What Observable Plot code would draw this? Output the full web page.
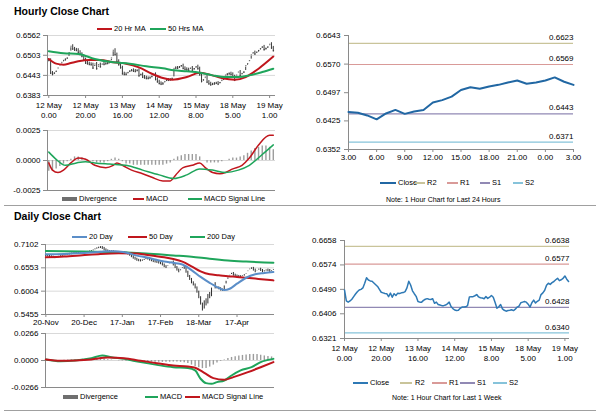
<!DOCTYPE html>
<html><head><meta charset="utf-8">
<script src="https://cdn.jsdelivr.net/npm/d3@7"></script>
<script src="https://cdn.jsdelivr.net/npm/@observablehq/plot@0.6"></script>
<style>
body{margin:0;background:#fff;}
#root{position:relative;width:600px;height:413px;overflow:hidden;font-family:"Liberation Sans",Arial,sans-serif;color:#000;background:#fff;}
.abs{position:absolute;}
.title{position:absolute;font-weight:bold;font-size:10.5px;line-height:12px;white-space:nowrap;}
.lt{position:absolute;font-size:7.5px;line-height:8px;white-space:nowrap;}
.sw{position:absolute;}
.note{position:absolute;font-size:7px;line-height:8px;white-space:nowrap;}
.sep{position:absolute;height:1px;background:#a0a0a0;}
</style></head><body><div id="root"></div>
<script>
// ---------------- DATA ----------------
// Hourly closes, 12 May 0:00 .. 19 May 3:00 (trading hours, index based)
const hourClose = [
0.6488,0.6450,0.6446,0.6450,0.6456,0.6465,0.6474,0.6482,0.6488,0.6490,
0.6495,0.6511,0.6530,0.6522,0.6519,0.6518,0.6512,0.6506,0.6500,0.6490,
0.6480,0.6478,0.6476,0.6475,0.6465,0.6477,0.6463,0.6475,0.6469,0.6477,
0.6476,0.6478,0.6479,0.6482,0.6495,0.6518,0.6505,0.6485,0.6475,0.6466,
0.6448,0.6446,0.6446,0.6452,0.6456,0.6458,0.6456,0.6455,0.6458,0.6442,
0.6446,0.6438,0.6436,0.6434,0.6434,0.6436,0.6440,0.6446,0.6431,0.6424,
0.6419,0.6417,0.6418,0.6425,0.6429,0.6429,0.6430,0.6434,0.6464,0.6465,
0.6465,0.6468,0.6472,0.6464,0.6461,0.6460,0.6458,0.6465,0.6459,0.6463,
0.6469,0.6463,0.6445,0.6425,0.6430,0.6438,0.6423,0.6418,0.6415,0.6417,
0.6418,0.6420,0.6417,0.6422,0.6429,0.6432,0.6444,0.6446,
0.6448,0.6446,0.6439,0.6429,0.6444,0.6453,0.6443,0.6449,0.6453,0.6472,
0.6478,0.6487,0.6504,0.6511,0.6507,0.6513,0.6517,0.6523,0.6528,0.6520,
0.6523,0.6528,0.6536,0.6525,0.6517];
const hourTickIdx = [0,20,40,60,80,100,120];
const hourTickLabels = ["12 May\n0.00","12 May\n20.00","13 May\n16.00","14 May\n12.00","15 May\n8.00","18 May\n5.00","19 May\n1.00"];
const hourPriceTicks = [0.6383,0.6443,0.6503,0.6562];

const hourMA20Idx = [0,4,8,12,16,22,28,35,42,49,56,62,67,75,82,87,94,101,107,114,122];
const hourMA20 = [0.6492,0.6478,0.6475,0.6480,0.6485,0.6489,0.6489,0.6482,0.6478,0.6467,0.6448,0.6435,0.6430,0.6438,0.6451,0.6446,0.6435,0.6430,0.6438,0.6463,0.6499];
const hourMA50Idx = [0,8,16,25,35,44,53,62,68,75,82,89,96,103,109,116,122];
const hourMA50 = [0.6515,0.6509,0.6507,0.6492,0.6482,0.6478,0.6470,0.6464,0.6458,0.6455,0.6451,0.6443,0.6438,0.6438,0.6443,0.6453,0.6463];

const hourMacdIdx = [0,2,5,8,12,16,20,25,31,35,37,40,45,51,56,62,66,69,73,78,82,85,89,93,96,100,105,109,114,120,122];
const hourMacd = [-0.0002,-0.0008,-0.0010,-0.0008,-0.0002,0.0002,0.0001,-0.0004,-0.0006,-0.0004,-0.0002,-0.0004,-0.0008,-0.0011,-0.0014,-0.0017,-0.0017,-0.0012,-0.0006,-0.0004,-0.0002,-0.0006,-0.0010,-0.0011,-0.0010,-0.0007,-0.0004,0.0002,0.0013,0.0021,0.0021];
const hourSignalIdx = [0,4,9,15,20,25,33,42,51,60,68,75,82,89,96,103,109,116,122];
const hourSignal = [0.0007,0.0001,-0.0004,-0.0002,-0.0001,-0.0002,-0.0003,-0.0004,-0.0008,-0.0012,-0.0015,-0.0012,-0.0007,-0.0008,-0.0010,-0.0008,-0.0004,0.0005,0.0013];
// divergence, every 2nd hour
const hourDivergence = [
-0.0009,-0.0009,-0.0007,-0.0005,-0.0003,-0.0001,0.0001,0.0003,0.0003,0.0002,
0.0001,0.0000,-0.0001,-0.0002,-0.0002,-0.0002,-0.0001,0.0001,0.0002,0.0001,
-0.0001,-0.0003,-0.0003,-0.0004,-0.0004,-0.0004,-0.0004,-0.0004,-0.0004,-0.0004,
-0.0004,-0.0004,-0.0003,-0.0002,0.0001,0.0003,0.0004,0.0005,0.0005,0.0005,
0.0005,0.0003,0.0000,-0.0002,-0.0002,-0.0002,-0.0002,-0.0001,0.0000,0.0001,
0.0002,0.0002,0.0003,0.0004,0.0006,0.0008,0.0010,0.0011,0.0012,0.0012,
0.0011,0.0009];
const hourMacdTicks = [-0.0025,0,0.0025];

// Daily closes, 20-Nov .. 19-May (trading days)
const dayClose = [
0.6840,0.6830,0.6815,0.6805,0.6795,0.6792,0.6800,0.6815,0.6830,0.6845,
0.6855,0.6860,0.6870,0.6879,0.6885,0.6890,0.6893,0.6895,0.6900,0.6905,
0.6908,0.6911,0.6915,0.6925,0.6935,0.6950,0.6975,0.6999,0.7015,0.7028,
0.7030,0.7010,0.6975,0.6950,0.6935,0.6932,0.6935,0.6925,0.6920,0.6915,
0.6911,0.6910,0.6912,0.6905,0.6895,0.6880,0.6850,0.6815,0.6780,0.6755,
0.6730,0.6720,0.6715,0.6730,0.6750,0.6770,0.6760,0.6735,0.6720,0.6700,
0.6690,0.6680,0.6665,0.6650,0.6620,0.6580,0.6560,0.6620,0.6660,0.6690,
0.6620,0.6560,0.6500,0.6460,0.6530,0.6560,0.6540,0.6450,0.6350,0.6280,
0.6200,0.6150,0.6080,0.5980,0.5850,0.5700,0.5560,0.5800,0.5680,0.5950,
0.5850,0.6100,0.6180,0.6080,0.6080,0.6060,0.6030,0.6020,0.6150,0.6260,
0.6340,0.6400,0.6420,0.6380,0.6360,0.6350,0.6345,0.6340,0.6370,0.6380,
0.6440,0.6500,0.6530,0.6540,0.6500,0.6460,0.6500,0.6520,0.6490,0.6460,
0.6480,0.6500,0.6490,0.6460,0.6490,0.6520];
const dayTickIdx = [0,21,42,63,84,105];
const dayTickLabels = ["20-Nov","20-Dec","17-Jan","17-Feb","18-Mar","17-Apr"];
const dayPriceTicks = [0.5455,0.6004,0.6553,0.7102];

const dayMA20Idx = [0,10,20,30,35,40,45,50,55,60,65,70,75,80,85,90,95,98,101,105,110,115,120,125];
const dayMA20 = [0.6870,0.6880,0.6900,0.6930,0.6945,0.6935,0.6900,0.6840,0.6800,0.6750,0.6700,0.6670,0.6630,0.6500,0.6340,0.6200,0.6080,0.6030,0.6060,0.6180,0.6320,0.6400,0.6430,0.6455];
const dayMA50Idx = [0,10,20,30,40,50,55,60,65,70,75,80,85,90,95,100,105,110,115,120,125];
const dayMA50 = [0.6800,0.6820,0.6850,0.6880,0.6895,0.6890,0.6860,0.6830,0.6800,0.6760,0.6700,0.6590,0.6470,0.6400,0.6380,0.6355,0.6340,0.6320,0.6300,0.6280,0.6258];
const dayMA200Idx = [0,20,40,55,70,80,90,100,110,120,125];
const dayMA200 = [0.6950,0.6935,0.6920,0.6890,0.6845,0.6815,0.6765,0.6725,0.6700,0.6680,0.6672];

const dayMacdIdx = [0,8,16,25,31,36,43,52,61,70,78,82,85,88,91,94,98,102,107,113,118,125];
const dayMacd = [0.0010,-0.0007,0.0000,0.0023,0.0049,0.0033,0.0016,-0.0016,-0.0043,-0.0066,-0.0075,-0.0098,-0.0180,-0.0223,-0.0230,-0.0213,-0.0197,-0.0148,-0.0098,-0.0066,-0.0016,0.0016];
const daySignalIdx = [0,8,16,25,34,43,52,61,70,78,82,87,92,98,103,111,118,125];
const daySignal = [0.0010,-0.0003,0.0000,0.0010,0.0030,0.0023,-0.0003,-0.0026,-0.0049,-0.0059,-0.0072,-0.0121,-0.0174,-0.0190,-0.0164,-0.0115,-0.0066,-0.0016];
// divergence, every 2nd day
const dayDivergence = [
0.0000,-0.0002,-0.0003,-0.0002,0.0000,0.0002,0.0004,0.0006,0.0008,0.0010,
0.0012,0.0012,0.0013,0.0015,0.0016,0.0018,0.0015,0.0008,0.0004,0.0000,
-0.0003,-0.0005,-0.0008,-0.0010,-0.0012,-0.0013,-0.0013,-0.0014,-0.0015,-0.0016,
-0.0017,-0.0018,-0.0018,-0.0018,-0.0017,-0.0016,-0.0016,-0.0018,-0.0022,-0.0030,
-0.0045,-0.0060,-0.0072,-0.0080,-0.0078,-0.0065,-0.0045,-0.0025,-0.0008,0.0005,
0.0020,0.0030,0.0038,0.0045,0.0050,0.0055,0.0058,0.0060,0.0058,0.0052,
0.0045,0.0040,0.0035];
const dayMacdTicks = [-0.0266,0,0.0266];

// Pivot levels
const levelNames = ["R2","R1","S1","S2"];
const levelColors = ["#c9c49a","#d99a98","#9189b4","#86c3da"];
const levels24 = [0.6623,0.6569,0.6443,0.6371];
const levelsWeek = [0.6638,0.6577,0.6428,0.6340];
const last24Ticks = [0.6352,0.6425,0.6497,0.6570,0.6643];
const last24TickIdx = [0,3,6,9,12,15,18,21,24];
const last24TickLabels = ["3.00","6.00","9.00","12.00","15.00","18.00","21.00","0.00","3.00"];
const weekTicks = [0.6321,0.6406,0.6490,0.6574,0.6658];

// ---------------- HELPERS ----------------
const root = document.getElementById("root");
const FONT = '"Liberation Sans", Arial, sans-serif';
const AX = "#8a8a8a", GRID = "#d9d9d9";
const RED = "#c0161d", GREEN = "#1fa55b", BLUE = "#5b8ec8", DIV = "#9c9c9c";
const fmt4 = d => d.toFixed(4);
const style = {fontSize:"8px", fontFamily:FONT, background:"transparent", overflow:"visible", color:"#000"};
function place(el, left, top){ const d=document.createElement("div"); d.className="abs"; d.style.left=left+"px"; d.style.top=top+"px"; d.appendChild(el); root.appendChild(d); }
function html(cls, txt, left, top){ const d=document.createElement("div"); d.className=cls; d.textContent=txt; d.style.left=left+"px"; d.style.top=top+"px"; root.appendChild(d); return d; }
function swatch(x1, x2, y, color, h){ const d=document.createElement("div"); d.className="sw"; d.style.left=x1+"px"; d.style.width=(x2-x1)+"px"; d.style.top=(y-h/2)+"px"; d.style.height=h+"px"; d.style.background=color; root.appendChild(d); }
function legendItem(x1, x2, tx, y, color, label, h){ swatch(x1,x2,y,color,h||2); html("lt", label, tx, y-4.5); }
function pairs(idx, vals){ return idx.map((x,k)=>({x, y:vals[k]})); }
function sep(y){ const d=document.createElement("div"); d.className="sep"; d.style.left="4px"; d.style.width="592px"; d.style.top=y+"px"; root.appendChild(d); }

// ---------------- TITLES / SEPARATORS ----------------
html("title","Hourly Close Chart",14,5);
html("title","Daily Close Chart",14,210);
sep(205); sep(410);

// ---------------- A: hourly price ----------------
const hourBars = hourClose.map((c,i)=>({i, close:c, open: i>0 ? hourClose[i-1] : c}));
const hx = [-0.7,123.2];
place(Plot.plot({
  width:290, height:95, marginLeft:47, marginRight:15, marginTop:5, marginBottom:30,
  x:{domain:hx}, y:{domain:[0.6383,0.6562]}, style,
  marks:[
    Plot.gridY(hourPriceTicks,{stroke:GRID, strokeOpacity:1}),
    Plot.ruleX([hx[0]],{stroke:AX}),
    Plot.ruleY([0.6383],{stroke:AX}),
    Plot.axisY(hourPriceTicks,{tickFormat:fmt4, tickSize:4, tickPadding:3, stroke:AX, label:null}),
    Plot.axisX(hourTickIdx,{tickFormat:d=>hourTickLabels[hourTickIdx.indexOf(d)], tickSize:3, tickPadding:3, stroke:AX, label:null, lineHeight:1.2}),
    Plot.ruleX(hourBars,{x:"i", y1:"open", y2:"close", stroke:"#3a3a3a", strokeWidth:1, insetTop:-1.5, insetBottom:-1.5}),
    Plot.ruleY(hourBars,{y:"close", x1:"i", x2:d=>d.i+0.7, stroke:"#3a3a3a", strokeWidth:0.8}),
    Plot.line(pairs(hourMA20Idx,hourMA20),{x:"x", y:"y", stroke:RED, strokeWidth:2, curve:"monotone-x"}),
    Plot.line(pairs(hourMA50Idx,hourMA50),{x:"x", y:"y", stroke:GREEN, strokeWidth:2, curve:"monotone-x"})
  ]}), 0, 30);
legendItem(97,112,114,29,RED,"20 Hr MA");
legendItem(150,166,168,29,GREEN,"50 Hrs MA");

// ---------------- B: hourly MACD ----------------
place(Plot.plot({
  width:290, height:75, marginLeft:47, marginRight:15, marginTop:8, marginBottom:7,
  x:{domain:hx, axis:null}, y:{domain:[-0.0025,0.0025]}, style,
  marks:[
    Plot.gridY(hourMacdTicks,{stroke:GRID, strokeOpacity:1}),
    Plot.ruleX([hx[0]],{stroke:AX}),
    Plot.ruleY([-0.0025],{stroke:AX}),
    Plot.axisY(hourMacdTicks,{tickFormat:fmt4, tickSize:4, tickPadding:3, stroke:AX, label:null}),
    Plot.ruleX(hourDivergence.map((v,k)=>({i:k*2, v})),{x:"i", y1:0, y2:"v", stroke:DIV, strokeWidth:1.4}),
    Plot.line(pairs(hourMacdIdx,hourMacd),{x:"x", y:"y", stroke:RED, strokeWidth:1.5, curve:"monotone-x"}),
    Plot.line(pairs(hourSignalIdx,hourSignal),{x:"x", y:"y", stroke:GREEN, strokeWidth:1.5, curve:"monotone-x"})
  ]}), 0, 122);
legendItem(62,77,79,199,"#6f6f6f","Divergence",4);
legendItem(133,144,146,199,RED,"MACD");
legendItem(188,202,204,199,GREEN,"MACD Signal Line");

// ---------------- C: daily price ----------------
const dayBars = dayClose.map((c,i)=>({i, close:c, open: i>0 ? dayClose[i-1] : c}));
const dx = [-0.2,125.6];
place(Plot.plot({
  width:290, height:95, marginLeft:45, marginRight:16, marginTop:5, marginBottom:20,
  x:{domain:dx}, y:{domain:[0.5455,0.7102]}, style,
  marks:[
    Plot.gridY(dayPriceTicks,{stroke:GRID, strokeOpacity:1}),
    Plot.ruleX([dx[0]],{stroke:AX}),
    Plot.ruleY([0.5455],{stroke:AX}),
    Plot.axisY(dayPriceTicks,{tickFormat:fmt4, tickSize:4, tickPadding:3, stroke:AX, label:null}),
    Plot.axisX(dayTickIdx,{tickFormat:d=>dayTickLabels[dayTickIdx.indexOf(d)], tickSize:3, tickPadding:2, stroke:AX, label:null}),
    Plot.ruleX(dayBars,{x:"i", y1:"open", y2:"close", stroke:"#303030", strokeWidth:1, insetTop:-1, insetBottom:-1}),
    Plot.line(pairs(dayMA200Idx,dayMA200),{x:"x", y:"y", stroke:GREEN, strokeWidth:2, curve:"monotone-x"}),
    Plot.line(pairs(dayMA50Idx,dayMA50),{x:"x", y:"y", stroke:RED, strokeWidth:2, curve:"monotone-x"}),
    Plot.line(pairs(dayMA20Idx,dayMA20),{x:"x", y:"y", stroke:BLUE, strokeWidth:2, curve:"monotone-x"})
  ]}), 0, 239);
legendItem(72,87,89,237,BLUE,"20 Day");
legendItem(128,147,149,237,RED,"50 Day");
legendItem(190,205,207,237,GREEN,"200 Day");

// ---------------- D: daily MACD ----------------
place(Plot.plot({
  width:290, height:66, marginLeft:45, marginRight:16, marginTop:7, marginBottom:5,
  x:{domain:dx, axis:null}, y:{domain:[-0.0266,0.0266]}, style,
  marks:[
    Plot.gridY(dayMacdTicks,{stroke:GRID, strokeOpacity:1}),
    Plot.ruleX([dx[0]],{stroke:AX}),
    Plot.ruleY([-0.0266],{stroke:AX}),
    Plot.axisY(dayMacdTicks,{tickFormat:fmt4, tickSize:4, tickPadding:3, stroke:AX, label:null}),
    Plot.ruleX(dayDivergence.map((v,k)=>({i:k*2, v})),{x:"i", y1:0, y2:"v", stroke:DIV, strokeWidth:1.4}),
    Plot.line(pairs(dayMacdIdx,dayMacd),{x:"x", y:"y", stroke:GREEN, strokeWidth:2, curve:"monotone-x"}),
    Plot.line(pairs(daySignalIdx,daySignal),{x:"x", y:"y", stroke:RED, strokeWidth:2, curve:"monotone-x"})
  ]}), 0, 326);
legendItem(63,78,80,397,"#6f6f6f","Divergence",4);
legendItem(145,158,160,397,GREEN,"MACD");
legendItem(185,200,202,397,RED,"MACD Signal Line");

// ---------------- E: last 24 hours ----------------
const last24 = hourClose.slice(-25).map((c,i)=>({i, c}));
const lv24 = levelNames.map((n,k)=>({n, v:levels24[k], col:levelColors[k]}));
place(Plot.plot({
  width:290, height:141, marginLeft:48, marginRight:17, marginTop:7, marginBottom:20,
  x:{domain:[0,24]}, y:{domain:[0.6352,0.6643]}, style,
  marks:[
    Plot.ruleY(lv24,{y:"v", stroke:"col", strokeWidth:1.2}),
    Plot.text(lv24,{x:24, y:"v", text:d=>fmt4(d.v), textAnchor:"end", dy:-6, fill:"#000", fontSize:8}),
    Plot.ruleX([0],{stroke:AX}),
    Plot.ruleY([0.6352],{stroke:AX}),
    Plot.axisY(last24Ticks,{tickFormat:fmt4, tickSize:4, tickPadding:4, stroke:AX, label:null}),
    Plot.axisX(last24TickIdx,{tickFormat:d=>last24TickLabels[last24TickIdx.indexOf(d)], tickSize:3, tickPadding:2, stroke:AX, label:null}),
    Plot.line(last24,{x:"i", y:"c", stroke:"#2167a3", strokeWidth:2})
  ]}), 300, 28);
legendItem(380,396,398,183,"#2167a3","Close");
legendItem(415,425,427,183,levelColors[0],"R2");
legendItem(447,458,460,183,levelColors[1],"R1");
legendItem(480,490,492,183,levelColors[2],"S1");
legendItem(513,523,525,183,levelColors[3],"S2");
html("note","Note: 1 Hour Chart for Last 24 Hours",386,196);

// ---------------- F: last week ----------------
const weekLine = hourClose.map((c,i)=>({i, c}));
const lvW = levelNames.map((n,k)=>({n, v:levelsWeek[k], col:levelColors[k]}));
place(Plot.plot({
  width:290, height:131, marginLeft:44, marginRight:21, marginTop:7, marginBottom:26,
  x:{domain:[0,122.5]}, y:{domain:[0.6321,0.6658]}, style,
  marks:[
    Plot.ruleY(lvW,{y:"v", stroke:"col", strokeWidth:1.2}),
    Plot.text(lvW,{x:122.5, y:"v", text:d=>fmt4(d.v), textAnchor:"end", dy:-6, fill:"#000", fontSize:8}),
    Plot.ruleX([0],{stroke:AX}),
    Plot.ruleY([0.6321],{stroke:AX}),
    Plot.axisY(weekTicks,{tickFormat:fmt4, tickSize:4, tickPadding:4, stroke:AX, label:null}),
    Plot.axisX(hourTickIdx,{tickFormat:d=>hourTickLabels[hourTickIdx.indexOf(d)], tickSize:3, tickPadding:3, stroke:AX, label:null, lineHeight:1.2}),
    Plot.line(weekLine,{x:"i", y:"c", stroke:"#2e79b5", strokeWidth:1.5})
  ]}), 300, 233);
legendItem(353,368,370,383,"#2e79b5","Close");
legendItem(400,412,415,383,levelColors[0],"R2");
legendItem(432,447,449,383,levelColors[1],"R1");
legendItem(460,475,477,383,levelColors[2],"S1");
legendItem(493,507,509,383,levelColors[3],"S2");
html("note","Note: 1 Hour Chart for Last 1 Week",392,394);
</script></body></html>
